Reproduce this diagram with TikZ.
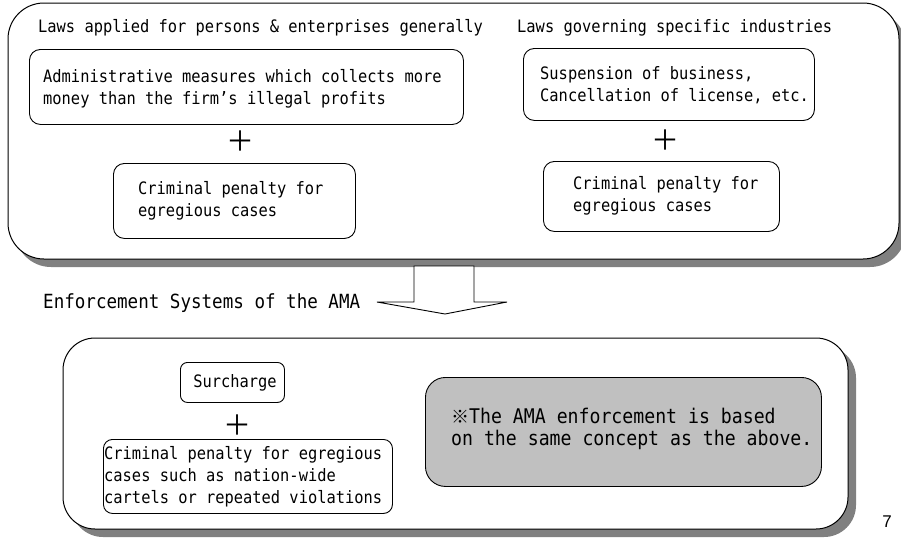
\documentclass[tikz,border=0pt]{standalone}
\usepackage{fontspec}
\setmainfont{DejaVu Sans Mono}[FakeStretch=0.9, WordSpace={1,0,0}]
\newfontfamily\cjk{Noto Sans CJK JP}
\newfontfamily\arialf{Liberation Sans}
\definecolor{shadowgray}{RGB}{128,128,128}
\definecolor{notegray}{RGB}{192,192,192}
\begin{document}
\begin{tikzpicture}[x=1pt,y=-1pt,
  base/.style={font=\fontsize{17.1}{22}\selectfont},
  txt/.style={base, inner sep=0, align=left, anchor=west},
  sbox/.style={draw, line width=0.9, rounded corners=11, fill=white,
               inner sep=0, anchor=north west},
  plussign/.style={font=\cjk\fontsize{28}{28}\selectfont, inner sep=0},
  bigbox/.style={draw, line width=1, fill=white},
]
\useasboundingbox (0,0) rectangle (901,538);

% top container
\fill[shadowgray, rounded corners=36] (15,11) rectangle (906,267);
\draw[bigbox, rounded corners=36] (8,3) rectangle (899,259);

\node[txt] (t1) at (38,28) {Laws applied for persons \& enterprises generally};
\node[txt] (t2) at (517,28) {Laws governing specific industries};

\node[sbox, minimum width=434, minimum height=75] (a) at (29,49) {};
\node[txt] (at) at (43,89) {Administrative measures which collects more\\money than the firm’s illegal profits};
\node[sbox, minimum width=291, minimum height=72] (b) at (523,48) {};
\node[txt] (bt) at (540,85) {Suspension of business,\\Cancellation of license, etc.};

\node[plussign] (p1) at (240,141) {＋};
\node[plussign] (p2) at (665,140) {＋};

\node[sbox, minimum width=242, minimum height=75] (c) at (113,163) {};
\node[txt] (ct) at (138,201) {Criminal penalty for\\egregious cases};
\node[sbox, minimum width=236, minimum height=70] (d) at (543,161) {};
\node[txt] (dt) at (573,196) {Criminal penalty for\\egregious cases};

% arrow
\draw[line width=0.9, fill=white] (414,266) -- (414,302) -- (377,302) -- (445,314)
  -- (507,302) -- (474,302) -- (474,266) -- cycle;

\node[txt, font=\fontsize{19.5}{22}\selectfont] (enf) at (43,303) {Enforcement Systems of the AMA};

% bottom container
\fill[shadowgray, rounded corners=32] (71,346) rectangle (856,537);
\draw[bigbox, rounded corners=32] (63,338) rectangle (848,529);

\node[sbox, rounded corners=7, minimum width=104, minimum height=40] (e) at (180,362) {};
\node[base, inner sep=0] (et) at (235,383) {Surcharge};
\node[plussign] (p3) at (237,425) {＋};
\node[sbox, rounded corners=9, minimum width=289, minimum height=74] (f) at (103,439) {};
\node[txt] (ft) at (104,477) {Criminal penalty for egregious\\cases such as nation-wide\\cartels or repeated violations};

\node[draw, line width=0.9, rounded corners=20, fill=notegray, anchor=north west,
      minimum width=396, minimum height=109, inner sep=0] (g) at (425,377) {};
\node[txt, font=\fontsize{20.2}{22}\selectfont] (gt) at (451,429)
  {{\cjk\fontsize{18}{22}\selectfont ※}The AMA enforcement is based\\on the same concept as the above.};

\node[font=\arialf\fontsize{17}{17}\selectfont, inner sep=0] (pg) at (887,522) {7};
\end{tikzpicture}
\end{document}
